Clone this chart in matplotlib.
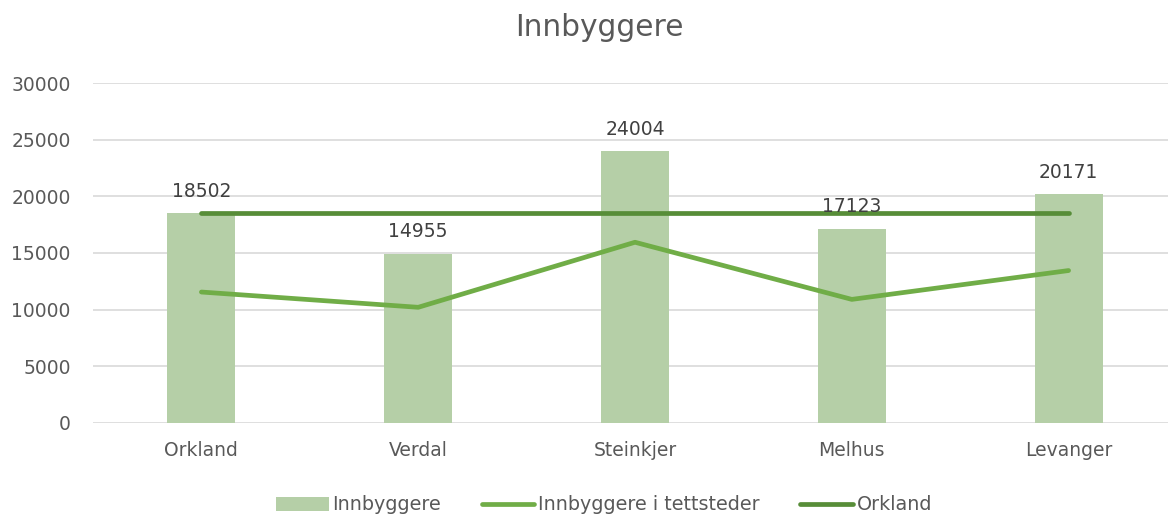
import matplotlib
matplotlib.use('Agg')
import matplotlib.pyplot as plt

# data
kommuner = ['Orkland', 'Verdal', 'Steinkjer', 'Melhus', 'Levanger']
innbyggere = [18502, 14955, 24004, 17123, 20171]
tettsteder = [11550, 10200, 15950, 10900, 13450]
orkland = [18502, 18502, 18502, 18502, 18502]

plt.rcParams['font.family'] = 'DejaVu Sans'

fig = plt.figure(figsize=(11.68, 5.18), dpi=100)
ax = fig.add_axes([93 / 1168, 1 - 422.7 / 518, 1084 / 1168, 339.4 / 518])

x = list(range(len(kommuner)))
bars = ax.bar(x, innbyggere, width=0.314, color='#b5cfa7', label='Innbyggere', zorder=2)
l1, = ax.plot(x, tettsteder, color='#70ad47', lw=3.4, solid_capstyle='round',
              label='Innbyggere i tettsteder', zorder=3)
l2, = ax.plot(x, orkland, color='#578d38', lw=3.4, solid_capstyle='round',
              label='Orkland', zorder=3)

for xi, v in zip(x, innbyggere):
    ax.annotate(str(v), (xi, v), xytext=(0, 9), textcoords='offset points',
                ha='center', va='bottom', fontsize=13.5, color='#404040', zorder=4)

ax.set_xlim(-0.5, 4.5)
ax.set_ylim(0, 30000)
ax.set_yticks(range(0, 30001, 5000))
ax.set_xticks(x)
ax.set_xticklabels(kommuner)
ax.tick_params(axis='both', length=0, labelsize=13.5, colors='#595959')
ax.tick_params(axis='y', pad=16)
ax.tick_params(axis='x', pad=13)
ax.grid(axis='y', color='#d9d9d9', lw=1.2, zorder=0)
ax.set_axisbelow(True)
for s in ax.spines.values():
    s.set_visible(False)

fig.text(599 / 1168, 1 - 28 / 518, 'Innbyggere', ha='center', va='center',
         fontsize=21.3, color='#595959')

leg = fig.legend([bars, l1, l2], ['Innbyggere', 'Innbyggere i tettsteder', 'Orkland'],
                 loc='center', bbox_to_anchor=(604 / 1168, 1 - 505 / 518), ncol=3,
                 frameon=False, fontsize=13.8, handlelength=2.75, handleheight=0.75,
                 handletextpad=0.2, columnspacing=2.1, labelcolor='#595959')

fig.savefig('out.png', dpi=100)
